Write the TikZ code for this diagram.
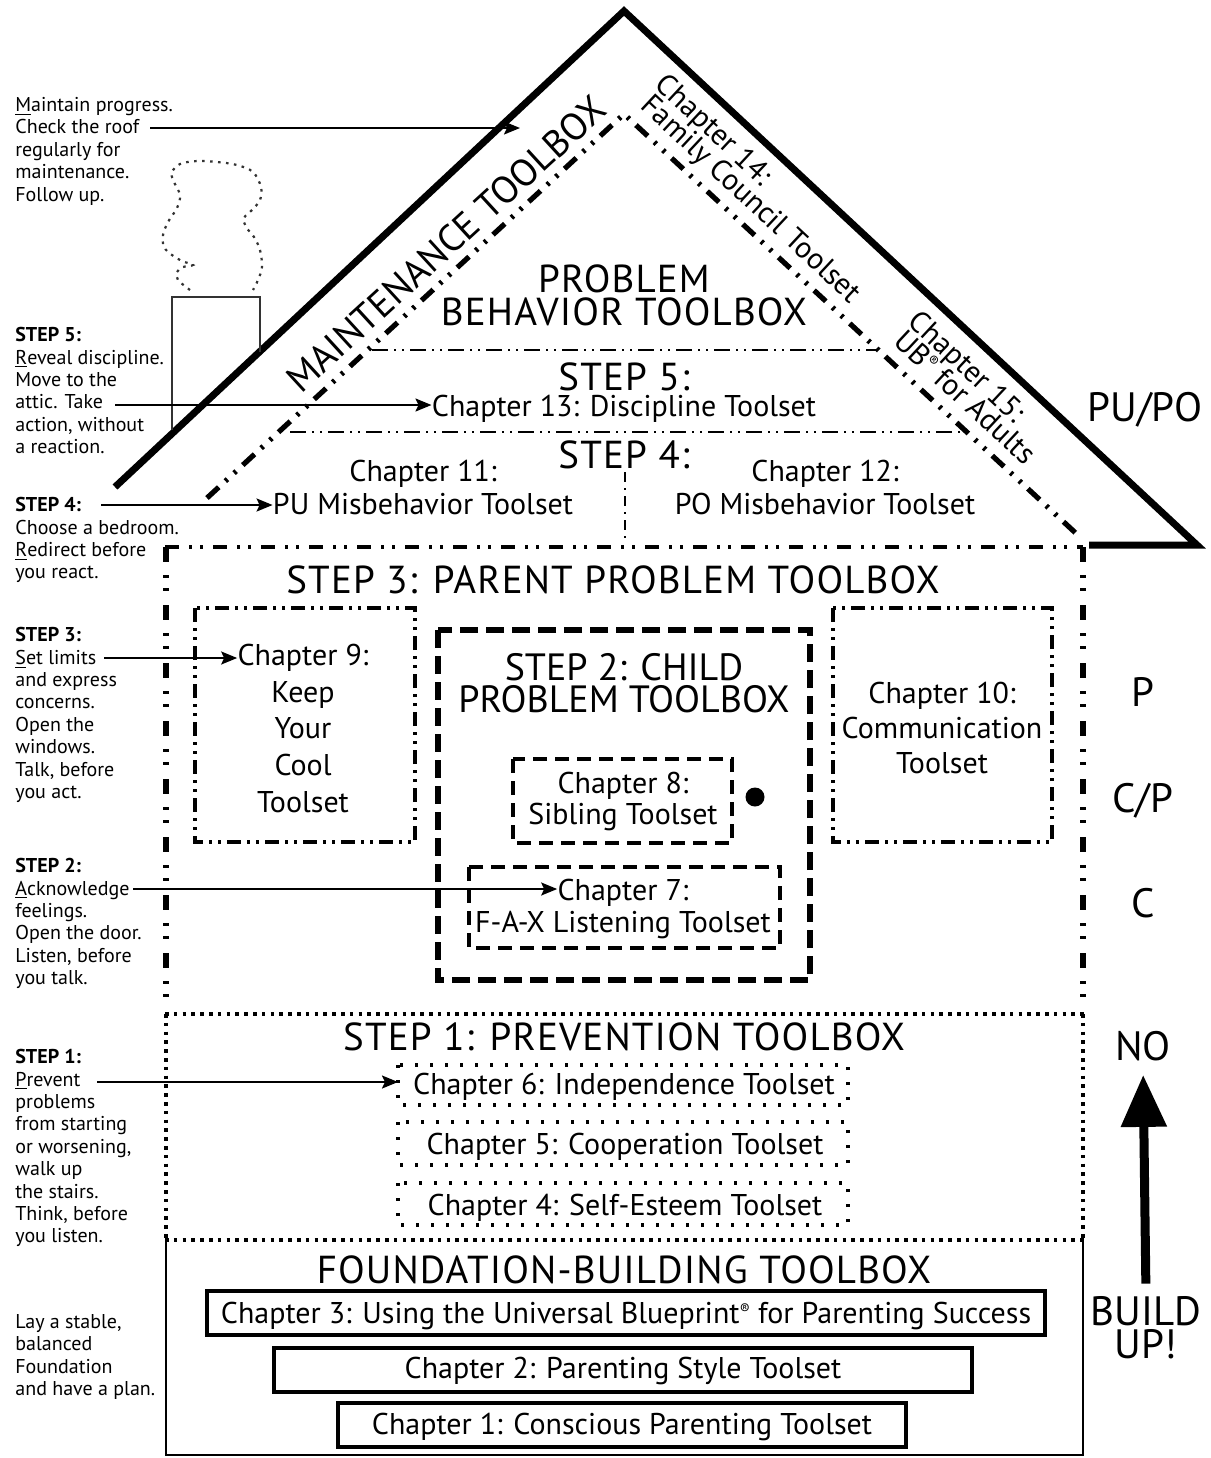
\documentclass[tikz,border=0pt]{standalone}
\usepackage{fontspec}
\setmainfont{PT Sans}
\usetikzlibrary{arrows.meta}
\newcommand*\regsign{\raisebox{0.6ex}{\scalebox{0.5}{®}}}
\begin{document}
\begin{tikzpicture}[x=0.5pt,y=-0.5pt,
  every node/.style={inner sep=0pt},
  hdrtxt/.style={font=\fontsize{19.5}{21}\selectfont\addfontfeatures{LetterSpace=3}, anchor=base},
  boxhdr/.style={font=\fontsize{19}{21}\selectfont, anchor=base},
  chaptxt/.style={font=\fontsize{15}{17}\selectfont, anchor=base},
  eavetxt/.style={font=\fontsize{15}{17}\selectfont, anchor=base west, rotate=-43},
  zonetxt/.style={font=\fontsize{20.5}{22}\selectfont, anchor=base},
  notetxt/.style={font=\fontsize{10}{11.2}\selectfont, align=left, anchor=north west},
  pointer/.style={line width=1pt, -{Stealth[length=8pt,width=6.5pt,inset=1.5pt]}},
  roofline/.style={line width=3.5pt, line join=miter},
  innerroof/.style={line width=2.6pt, dash pattern=on 8pt off 4.5pt on 1.4pt off 4.5pt on 1.4pt off 4.5pt},
  chimney/.style={line width=0.8pt, draw=black!80},
  smoke/.style={line width=1.1pt, draw=black!80, dash pattern=on 1.3pt off 2.7pt},
  atticsep/.style={line width=0.9pt, dash pattern=on 8pt off 3pt on 1pt off 3pt on 1pt off 3pt},
  atticwall/.style={line width=0.6pt, dash pattern=on 5pt off 3pt on 1pt off 3pt},
  wallside/.style={line width=2.8pt, dash pattern=on 7.5pt off 6.5pt on 1.5pt off 5pt on 1.5pt off 7pt},
  walltop/.style={line width=1.6pt, dash pattern=on 7pt off 5pt on 1.5pt off 4pt on 1.5pt off 5pt},
  winbox/.style={line width=1.6pt, dash pattern=on 7pt off 3pt on 1.5pt off 3pt on 1.5pt off 3pt},
  doorbox/.style={line width=3pt, dash pattern=on 9pt off 4pt},
  innerbox/.style={line width=2pt, dash pattern=on 7pt off 4pt},
  floorline/.style={line width=2.2pt, dash pattern=on 1.8pt off 2.6pt},
  stairbox/.style={line width=1.6pt, dash pattern=on 1.6pt off 5.9pt},
  basebox/.style={line width=1.2pt},
  slab/.style={line width=2pt},
  bigarrow/.style={line width=4.5pt, -{Triangle[length=26pt,width=22pt]}}
]
\useasboundingbox (0,0) rectangle (1211,1458);

% ---------- roof ----------
\draw[roofline] (115,487) -- (624,11) -- (1197,545) -- (1089,545);
\draw[innerroof] (207,498) -- (624,114) -- (1081,538);

% ---------- chimney and smoke ----------
\draw[chimney] (172,430) -- (172,297) -- (260,297) -- (260,352);
\draw[smoke] plot[smooth, tension=0.55] coordinates {
  (190,290) (178,280) (177,272) (183,267) (193,265) (182,261) (172,255)
  (164,247) (163,235) (168,222) (177,208) (180,195) (173,180) (172,172)
  (180,164) (197,161) (217,162) (237,165) (253,172) (261,187) (260,200)
  (252,210) (244,218) (246,227) (254,237) (260,250) (262,267) (258,280) (253,290)};

% ---------- attic ----------
\draw[atticsep] (372,350) -- (877,350);
\draw[atticsep] (290,432) -- (962,432);
\draw[atticwall] (625,472) -- (625,540);

% ---------- house body ----------
\draw[walltop] (165,547) -- (1083,547);
\draw[wallside] (166,547) -- (166,1010);
\draw[wallside] (1083,547) -- (1083,1010);
\draw[floorline] (165,1014) -- (1085,1014);
\draw[floorline] (166,1014) -- (166,1240);
\draw[floorline] (1083,1014) -- (1083,1240);
\draw[floorline] (165,1240) -- (1085,1240);
\draw[basebox] (166,1240) -- (166,1455) -- (1083,1455) -- (1083,1240);

% windows, door and inner boxes
\draw[winbox] (195,608) rectangle (415,842);
\draw[winbox] (833,608) rectangle (1052,842);
\draw[doorbox] (438,630) rectangle (810,980);
\draw[innerbox] (513,759) rectangle (732,843);
\draw[innerbox] (469,867) rectangle (780,948);
\fill (755,797) circle (9.5);

% stairs
\draw[stairbox] (398,1065) rectangle (848,1105);
\draw[stairbox] (398,1122) rectangle (848,1165);
\draw[stairbox] (398,1183) rectangle (848,1225);

% foundation slabs
\draw[slab] (207,1291) rectangle (1045,1335);
\draw[slab] (274,1348) rectangle (972,1392);
\draw[slab] (338,1403) rectangle (906,1447);

% ---------- roof texts ----------
\node[boxhdr, anchor=center, rotate=42.5] (maint) at (446,244) {MAINTENANCE TOOLBOX};
\node[eavetxt] (ch14a) at (653.5,86.5) {Chapter 14:};
\node[eavetxt] (ch14b) at (639,107) {Family Council Toolset};
\node[eavetxt] (ch15a) at (906.5,323.5) {Chapter 15:};
\node[eavetxt] (ch15b) at (892,343) {UB\regsign{} for Adults};
\node[hdrtxt] (pb1) at (624,292) {PROBLEM};
\node[hdrtxt] (pb2) at (624,325) {BEHAVIOR TOOLBOX};
\node[hdrtxt] (s5) at (624,390) {STEP 5:};
\node[chaptxt] (ch13) at (624,416) {Chapter 13: Discipline Toolset};
\node[hdrtxt] (s4) at (624,468) {STEP 4:};
\node[chaptxt] (ch11a) at (423,481) {Chapter 11:};
\node[chaptxt] (ch11b) at (423,514) {PU Misbehavior Toolset};
\node[chaptxt] (ch12a) at (825,481) {Chapter 12:};
\node[chaptxt] (ch12b) at (825,514) {PO Misbehavior Toolset};

% ---------- body texts ----------
\node[hdrtxt] (s3) at (613,593) {STEP 3: PARENT PROBLEM TOOLBOX};
\node[chaptxt] (ch9a) at (303,665) {Chapter 9:};
\node[chaptxt] (ch9b) at (303,702) {Keep};
\node[chaptxt] (ch9c) at (303,738) {Your};
\node[chaptxt] (ch9d) at (303,775) {Cool};
\node[chaptxt] (ch9e) at (303,812) {Toolset};
\node[chaptxt] (ch10a) at (942,703) {Chapter 10:};
\node[chaptxt] (ch10b) at (942,738) {Communication};
\node[chaptxt] (ch10c) at (942,773) {Toolset};
\node[boxhdr] (s2a) at (624,680) {STEP 2: CHILD};
\node[boxhdr] (s2b) at (624,712) {PROBLEM TOOLBOX};
\node[chaptxt] (ch8a) at (623,793) {Chapter 8:};
\node[chaptxt] (ch8b) at (623,824) {Sibling Toolset};
\node[chaptxt] (ch7a) at (623,900) {Chapter 7:};
\node[chaptxt] (ch7b) at (623,932) {F-A-X Listening Toolset};
\node[hdrtxt] (s1) at (624,1050) {STEP 1: PREVENTION TOOLBOX};
\node[chaptxt] (ch6) at (624,1094) {Chapter 6: Independence Toolset};
\node[chaptxt] (ch5) at (625,1154) {Chapter 5: Cooperation Toolset};
\node[chaptxt] (ch4) at (625,1215) {Chapter 4: Self-Esteem Toolset};
\node[hdrtxt] (fb) at (624,1283) {FOUNDATION-BUILDING TOOLBOX};
\node[chaptxt] (ch3) at (626,1323) {Chapter 3: Using the Universal Blueprint\regsign{} for Parenting Success};
\node[chaptxt] (ch2) at (623,1378) {Chapter 2: Parenting Style Toolset};
\node[chaptxt] (ch1) at (622,1434) {Chapter 1: Conscious Parenting Toolset};

% ---------- right column ----------
\node[zonetxt] (zpupo) at (1145,421) {PU/PO};
\node[zonetxt] (zp) at (1143,706) {P};
\node[zonetxt] (zcp) at (1143,812) {C/P};
\node[zonetxt] (zc) at (1143,917) {C};
\node[zonetxt] (zno) at (1143,1060) {NO};
\node[zonetxt] (zbuild) at (1146,1325) {BUILD};
\node[zonetxt] (zup) at (1146,1358) {UP!};
\draw[bigarrow, shorten <=6pt, shorten >=7pt] (zbuild.north) -- (zno.south);

% ---------- left notes ----------
\node[notetxt] (nmaint) at (15,97) {\underline{M}aintain progress.\\Check the roof\\regularly for\\maintenance.\\Follow up.};
\node[notetxt] (nfive) at (15,327) {\textbf{STEP 5:}\\\underline{R}eveal discipline.\\Move to the\\attic. Take\\action, without\\a reaction.};
\node[notetxt] (nfour) at (15,497) {\textbf{STEP 4:}\\Choose a bedroom.\\\underline{R}edirect before\\you react.};
\node[notetxt] (nthree) at (15,627) {\textbf{STEP 3:}\\\underline{S}et limits\\and express\\concerns.\\Open the\\windows.\\Talk, before\\you act.};
\node[notetxt] (ntwo) at (15,858) {\textbf{STEP 2:}\\\underline{A}cknowledge\\feelings.\\Open the door.\\Listen, before\\you talk.};
\node[notetxt] (none) at (15,1049) {\textbf{STEP 1:}\\\underline{P}revent\\problems\\from starting\\or worsening,\\walk up\\the stairs.\\Think, before\\you listen.};
\node[notetxt] (nfound) at (15,1314) {Lay a stable,\\balanced\\Foundation\\and have a plan.};

% ---------- pointers ----------
\coordinate (pm) at (150,128);
\coordinate (roofmark) at (520,128);
\coordinate (p5) at (115,405);
\coordinate (p4) at (101,505);
\coordinate (p3) at (104,658);
\coordinate (p2) at (133,889);
\coordinate (p1) at (97,1082);
\draw[pointer] (pm) -- (roofmark);
\draw[pointer] (p5) -- (ch13.west |- p5);
\draw[pointer] (p4) -- (ch11b.west |- p4);
\draw[pointer] (p3) -- (ch9a.west |- p3);
\draw[pointer] (p2) -- (ch7a.west |- p2);
\draw[pointer] (p1) -- (398,1082);
\end{tikzpicture}
\end{document}
